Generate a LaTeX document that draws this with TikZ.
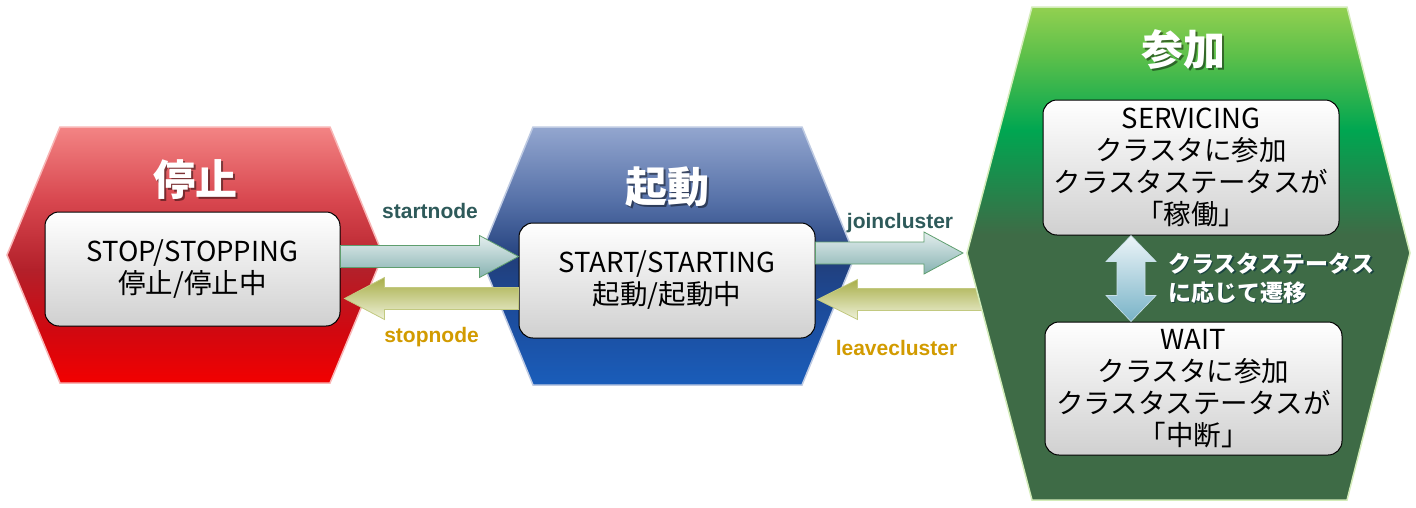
\documentclass[tikz,border=0pt]{standalone}
\usepackage{fontspec}
\newfontfamily\jp{Noto Sans CJK JP}
\newfontfamily\lab{Liberation Sans}
\usetikzlibrary{calc}
\definecolor{rA}{HTML}{F38484}\definecolor{rB}{HTML}{D8474F}\definecolor{rC}{HTML}{B3202A}\definecolor{rD}{HTML}{D00810}\definecolor{rE}{HTML}{F20000}
\definecolor{bA}{HTML}{93A6CF}\definecolor{bB}{HTML}{5671A8}\definecolor{bC}{HTML}{213F7C}\definecolor{bD}{HTML}{1C4C9C}\definecolor{bE}{HTML}{1A5DBA}
\definecolor{gA}{HTML}{92D050}\definecolor{gB}{HTML}{5DC04A}\definecolor{gC}{HTML}{00A651}\definecolor{gD}{HTML}{3E6B46}
\definecolor{boxgray}{HTML}{D0D0D0}
\definecolor{tealtxt}{HTML}{2E5A5A}
\definecolor{goldtxt}{HTML}{D29B00}
\definecolor{tealA}{HTML}{E4EEEE}\definecolor{tealB}{HTML}{86B2B1}\definecolor{tealline}{HTML}{5E9E6E}
\definecolor{oliveA}{HTML}{A8AE48}\definecolor{oliveB}{HTML}{EEF1D8}\definecolor{oliveline}{HTML}{C2C980}
\definecolor{vA}{HTML}{ECF4F8}\definecolor{vB}{HTML}{78B3C7}
\definecolor{vshadow}{HTML}{123A40}
\pgfdeclareverticalshading{redhex}{100bp}{color(0bp)=(rE); color(25bp)=(rE); color(35.4bp)=(rD); color(47.1bp)=(rC); color(60.7bp)=(rB); color(75bp)=(rA); color(100bp)=(rA)}
\pgfdeclareverticalshading{bluehex}{100bp}{color(0bp)=(bE); color(25bp)=(bE); color(39bp)=(bD); color(49bp)=(bC); color(60.7bp)=(bB); color(75bp)=(bA); color(100bp)=(bA)}
\pgfdeclareverticalshading{greenhex}{100bp}{color(0bp)=(gD); color(25bp)=(gD); color(51.9bp)=(gD); color(62.5bp)=(gC); color(70.1bp)=(gB); color(75bp)=(gA); color(100bp)=(gA)}
% horizontal block arrow: #1 style, #2 from, #3 tip, #4 shaft half, #5 head half, #6 head length
\newcommand\hblockarrow[6]{%
  \path[#1] let \p1=(#2), \p2=(#3), \n1={((\x2>\x1)*2-1)} in
    (\x1,{\y1+#4}) -- ({\x2-\n1*#6},{\y1+#4}) -- ({\x2-\n1*#6},{\y1+#5}) -- (\x2,\y1)
    -- ({\x2-\n1*#6},{\y1-#5}) -- ({\x2-\n1*#6},{\y1-#4}) -- (\x1,{\y1-#4}) -- cycle;}
% vertical double arrow: #1 style, #2 top tip, #3 bottom tip, #4 shaft half, #5 head half, #6 head length
\newcommand\vdoublearrow[6]{%
  \path[#1] let \p1=(#2), \p2=(#3) in
    (\x1,\y1) -- ({\x1+#5},{\y1-#6}) -- ({\x1+#4},{\y1-#6}) -- ({\x1+#4},{\y2+#6}) -- ({\x1+#5},{\y2+#6})
    -- (\x1,\y2) -- ({\x1-#5},{\y2+#6}) -- ({\x1-#4},{\y2+#6}) -- ({\x1-#4},{\y1-#6}) -- ({\x1-#5},{\y1-#6}) -- cycle;}
\begin{document}
\begin{tikzpicture}[x=1pt,y=-1pt,
  statebox/.style={draw=black, line width=1pt, rounded corners=14pt, top color=white, bottom color=boxgray,
    align=center, inner sep=0pt, text=black, font=\jp\fontsize{27.5pt}{32pt}\selectfont},
  titletxt/.style={text=white, font=\jp\bfseries\fontsize{42pt}{42pt}\selectfont, inner sep=0pt},
  titleshadow/.style={text=black, opacity=0.45, font=\jp\bfseries\fontsize{42pt}{42pt}\selectfont, inner sep=0pt},
  lblteal/.style={text=tealtxt, font=\lab\bfseries\fontsize{21pt}{21pt}\selectfont, inner sep=0pt, anchor=base},
  lblgold/.style={text=goldtxt, font=\lab\bfseries\fontsize{21pt}{21pt}\selectfont, inner sep=0pt, anchor=base},
  fwdarrow/.style={top color=tealA, bottom color=tealB, draw=tealline, line width=0.8pt},
  backarrow/.style={top color=oliveA, bottom color=oliveB, draw=oliveline, line width=0.8pt},
  vertarrow/.style={top color=vA, bottom color=vB, draw=vA!70!vB, line width=0.6pt},
  vlabel/.style={text=white, align=left, anchor=west, inner sep=0pt, font=\jp\bfseries\fontsize{23pt}{29pt}\selectfont},
  vlabelshadow/.style={text=vshadow, opacity=0.8, align=left, anchor=west, inner sep=0pt, font=\jp\bfseries\fontsize{23pt}{29pt}\selectfont}
]
\useasboundingbox (0,0) rectangle (1416,507);
\fill[white] (0,0) rectangle (1416,507);

% hexagons
\path[shade, shading=redhex, draw=rA!60!white, line width=1.5pt]
  (7,255) -- (60,127) -- (330,127) -- (383,255) -- (330,383) -- (60,383) -- cycle;
\path[shade, shading=bluehex, draw=bA!60!white, line width=1.5pt]
  (480,256) -- (533,127) -- (802,127) -- (855,256) -- (802,385) -- (533,385) -- cycle;

% titles
\node[titleshadow] (tRs) at (197,182) {停止};
\node[titletxt] (tR) at (195,180) {停止};
\node[titleshadow] (tBs) at (669,189) {起動};
\node[titletxt] (tB) at (667,187) {起動};

% state boxes (left, middle)
\node[statebox, minimum width=295pt, minimum height=114pt] (stopbox) at (192.5,269) {STOP/STOPPING\\停止/停止中};
\node[statebox, minimum width=296pt, minimum height=115pt] (startbox) at (667,280.5) {START/STARTING\\起動/起動中};

% green hexagon vertex for arrows
\coordinate (gL) at (967,253);

% arrows between states
\coordinate (a1) at ($(stopbox.east)+(0,-12.5)$);
\hblockarrow{fwdarrow}{a1}{startbox.west |- a1}{11pt}{21pt}{39pt}
\coordinate (a2) at ($(startbox.west)+(0,18)$);
\coordinate (a2t) at ($(stopbox.east |- a2)+(4,0)$);
\hblockarrow{backarrow}{a2}{a2t}{11pt}{21pt}{40pt}
\coordinate (a3) at (startbox.east |- gL);
\coordinate (a3t) at ($(gL)+(-4,0)$);
\hblockarrow{fwdarrow}{a3}{a3t}{11pt}{21pt}{39pt}
\coordinate (a4) at ($(gL)+(16,46.5)$);
\coordinate (a4t) at ($(startbox.east |- a4)+(2,0)$);
\hblockarrow{backarrow}{a4}{a4t}{11pt}{20pt}{40pt}

% arrow labels
\node[lblteal] (lstart) at (430,218) {startnode};
\node[lblgold] (lstop) at (431.5,342) {stopnode};
\node[lblteal] (ljoin) at (900,228) {joincluster};
\node[lblgold] (lleave) at (896.5,355) {leavecluster};

% green hexagon
\path[shade, shading=greenhex, draw=gA!40!white, line width=1.5pt]
  (gL) -- (1032,7) -- (1347,7) -- (1410,253) -- (1347,500) -- (1032,500) -- cycle;
\node[titleshadow] (tGs) at (1185,52) {参加};
\node[titletxt] (tG) at (1183,50) {参加};

\node[statebox, minimum width=296pt, minimum height=135pt] (servbox) at (1191,167.5)
  {SERVICING\\クラスタに参加\\クラスタステータスが\\「稼働」};
\node[statebox, minimum width=297pt, minimum height=133pt] (waitbox) at (1193.5,388.5)
  {WAIT\\クラスタに参加\\クラスタステータスが\\「中断」};

% vertical transition arrow
\coordinate (vt) at ($(servbox.south)+(-60,0)$);
\coordinate (vb) at (vt |- waitbox.north);
\vdoublearrow{vertarrow}{vt}{vb}{14pt}{25pt}{26pt}
\node[vlabelshadow] (vls) at (1169.5,279.5) {クラスタステータス\\に応じて遷移};
\node[vlabel] (vl) at (1168,278) {クラスタステータス\\に応じて遷移};
\end{tikzpicture}
\end{document}
